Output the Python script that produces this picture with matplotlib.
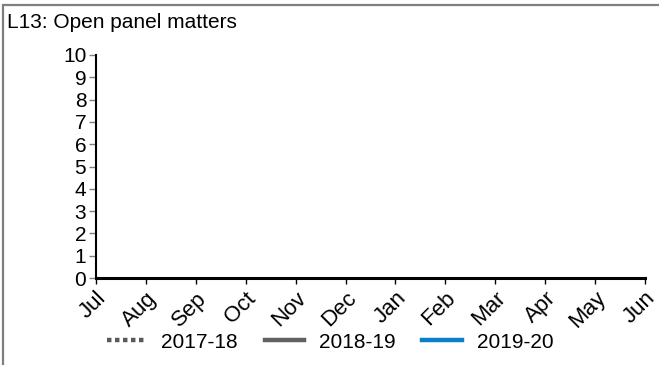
import matplotlib
matplotlib.use("Agg")
import matplotlib.pyplot as plt
from matplotlib.patches import Rectangle
import numpy as np

plt.rcParams['font.family'] = ['Liberation Sans', 'DejaVu Sans']

title = "L13: Open panel matters"
months = ["Jul", "Aug", "Sep", "Oct", "Nov", "Dec",
          "Jan", "Feb", "Mar", "Apr", "May", "Jun"]
y_ticks = [0, 1, 2, 3, 4, 5, 6, 7, 8, 9, 10]

# No matters recorded for any year yet
series_2017_18 = [None] * 12
series_2018_19 = [None] * 12
series_2019_20 = [None] * 12
series_labels = ["2017-18", "2018-19", "2019-20"]

W, H = 659, 365
FS = 15
fig = plt.figure(figsize=(W / 100, H / 100), dpi=100)

# panel frame (top and left edges)
fig.add_artist(Rectangle((3 / W, -0.1), 1.2, (H - 5) / H + 0.1,
                         transform=fig.transFigure, fill=False,
                         edgecolor="#7f7f7f", linewidth=1.6))

fig.text(7 / W, 1 - 22 / H, title, fontsize=FS, va="center", ha="left")

ax = fig.add_axes([96 / W, 1 - 278 / H, (645 - 96) / W, (278 - 55) / H])

x = np.arange(len(months))
to_float = lambda s: np.array([np.nan if v is None else v for v in s], dtype=float)
ax.plot(x, to_float(series_2017_18), color="#5a5a5a", lw=3.2,
        linestyle=(0, (1.0, 0.8)), dash_capstyle="butt", label=series_labels[0])
ax.plot(x, to_float(series_2018_19), color="#5f6062", lw=3.2,
        label=series_labels[1])
ax.plot(x, to_float(series_2019_20), color="#0a7fc8", lw=3.2,
        label=series_labels[2])

ax.set_xlim(0, len(months) - 1)
ax.set_ylim(0, 10)
ax.set_xticks(x)
ax.set_xticklabels(months, rotation=45, ha="right", rotation_mode="anchor",
                   fontsize=16)
ax.set_yticks(y_ticks)
ax.set_yticklabels([str(v) for v in y_ticks], fontsize=FS)

for side in ("top", "right"):
    ax.spines[side].set_visible(False)
ax.spines["left"].set_linewidth(1.5)
ax.spines["bottom"].set_linewidth(2.2)
ax.tick_params(axis="y", direction="out", length=5, width=1,
               color="#808080", pad=2)
ax.tick_params(axis="x", direction="out", length=4, width=1,
               color="#000000", pad=3)

fig.legend(loc="center", bbox_to_anchor=(330 / W, 1 - 342 / H), ncol=3,
           frameon=False, fontsize=FS, handlelength=1.9,
           handletextpad=0.7, columnspacing=1.3)

fig.savefig("out.png", dpi=100)
